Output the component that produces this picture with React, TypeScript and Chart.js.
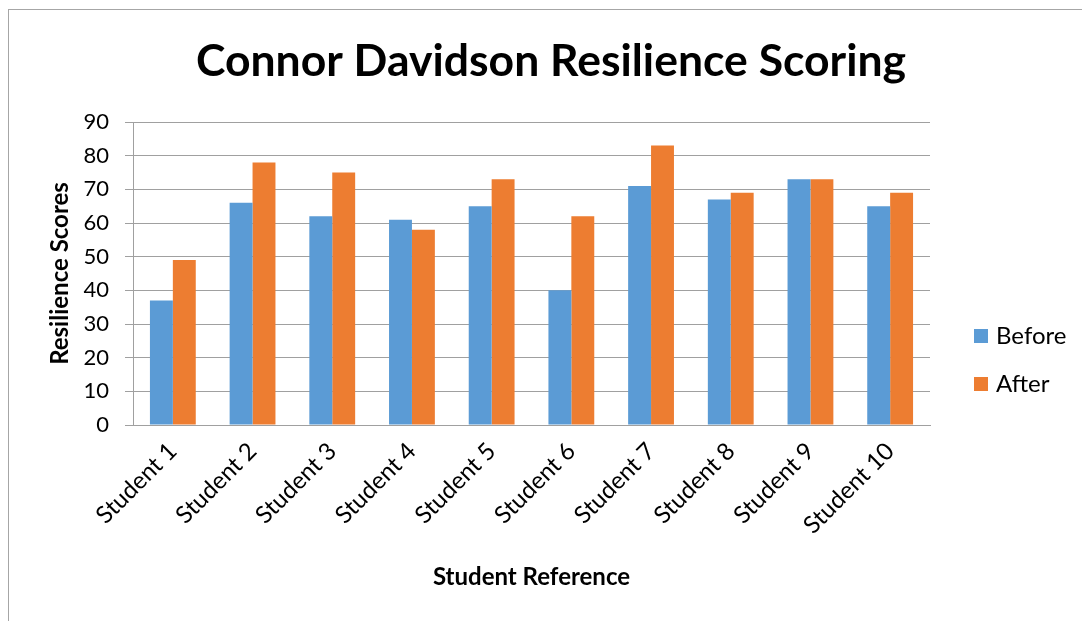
import React, { useEffect, useRef } from "react";
import { Chart, registerables } from "chart.js";

Chart.register(...registerables);

const chartTitle = "Connor Davidson Resilience Scoring";
const xAxisTitle = "Student Reference";
const yAxisTitle = "Resilience Scores";
const categories = [
  "Student 1",
  "Student 2",
  "Student 3",
  "Student 4",
  "Student 5",
  "Student 6",
  "Student 7",
  "Student 8",
  "Student 9",
  "Student 10",
];
const seriesNames = ["Before", "After"];
const beforeScores = [37, 66, 62, 61, 65, 40, 71, 67, 73, 65];
const afterScores = [49, 78, 75, 58, 73, 62, 83, 69, 73, 69];
const seriesColors = ["#5B9BD5", "#ED7D31"];
const yMin = 0;
const yMax = 90;
const yStep = 10;

const FONT = "Lato, 'Open Sans', sans-serif";
const GRID = "#a0a0a0";

const titlePlugin = {
  id: "excelTitle",
  afterDraw(chart: any) {
    const ctx = chart.ctx;
    ctx.save();
    ctx.fillStyle = "#000";
    ctx.font = `bold 44.5px ${FONT}`;
    ctx.textAlign = "center";
    ctx.textBaseline = "middle";
    ctx.fillText(chartTitle, chart.width / 2 + 10, 62);
    ctx.restore();
  },
};

const legendPlugin = {
  id: "sideLegend",
  afterDraw(chart: any) {
    const ctx = chart.ctx;
    const x = chart.chartArea.right + 44;
    ctx.save();
    chart.data.datasets.forEach((ds: any, i: number) => {
      const y = 336 + i * 48;
      ctx.fillStyle = ds.backgroundColor;
      ctx.fillRect(x, y - 7, 14, 14);
      ctx.fillStyle = "#000";
      ctx.font = `24px ${FONT}`;
      ctx.textAlign = "left";
      ctx.textBaseline = "middle";
      ctx.fillText(ds.label, x + 22, y);
    });
    ctx.restore();
  },
};

export default function App() {
  const canvasRef = useRef<HTMLCanvasElement | null>(null);

  useEffect(() => {
    const canvas = canvasRef.current;
    if (!canvas) return;
    const chart = new Chart(canvas, {
      type: "bar",
      data: {
        labels: categories,
        datasets: [
          {
            label: seriesNames[0],
            data: beforeScores,
            backgroundColor: seriesColors[0],
            categoryPercentage: 0.575,
            barPercentage: 1,
          },
          {
            label: seriesNames[1],
            data: afterScores,
            backgroundColor: seriesColors[1],
            categoryPercentage: 0.575,
            barPercentage: 1,
          },
        ],
      },
      options: {
        responsive: false,
        animation: false,
        layout: { padding: { left: 40, right: 152, top: 122, bottom: 0 } },
        plugins: {
          legend: { display: false },
          title: { display: false },
          tooltip: { enabled: false },
        },
        scales: {
          x: {
            grid: { display: false },
            border: { display: true, color: GRID, width: 1 },
            ticks: {
              color: "#000",
              font: { family: FONT, size: 24 },
              minRotation: 45,
              maxRotation: 45,
              padding: 4,
            },
            title: {
              display: true,
              text: xAxisTitle,
              color: "#000",
              font: { family: FONT, size: 24, weight: "bold" },
              padding: { top: 0, bottom: 29 },
            },
            afterFit(scale: any) {
              scale.height = 196;
            },
          },
          y: {
            min: yMin,
            max: yMax,
            ticks: {
              stepSize: yStep,
              color: "#000",
              font: { family: FONT, size: 22 },
              padding: 16,
            },
            grid: { color: GRID, lineWidth: 1, tickLength: 8 },
            border: { display: true, color: GRID, width: 1 },
            title: {
              display: true,
              text: yAxisTitle,
              color: "#000",
              font: { family: FONT, size: 24, weight: "bold" },
              padding: { top: 6, bottom: 0 },
            },
            afterFit(scale: any) {
              scale.width = 93;
            },
          },
        },
      },
      plugins: [titlePlugin, legendPlugin],
    });
    return () => chart.destroy();
  }, []);

  return (
    <div
      style={{
        position: "fixed",
        left: 0,
        top: 0,
        width: 1082,
        height: 621,
        overflow: "hidden",
        background: "#fff",
      }}
    >
      <div
        style={{
          position: "absolute",
          left: 8,
          top: 9,
          width: 2000,
          height: 2000,
          borderLeft: "1px solid #a6a6a6",
          borderTop: "1px solid #a6a6a6",
        }}
      />
      <canvas
        ref={canvasRef}
        width={1082}
        height={621}
        style={{ position: "absolute", left: 0, top: 0, width: 1082, height: 621 }}
      />
    </div>
  );
}
